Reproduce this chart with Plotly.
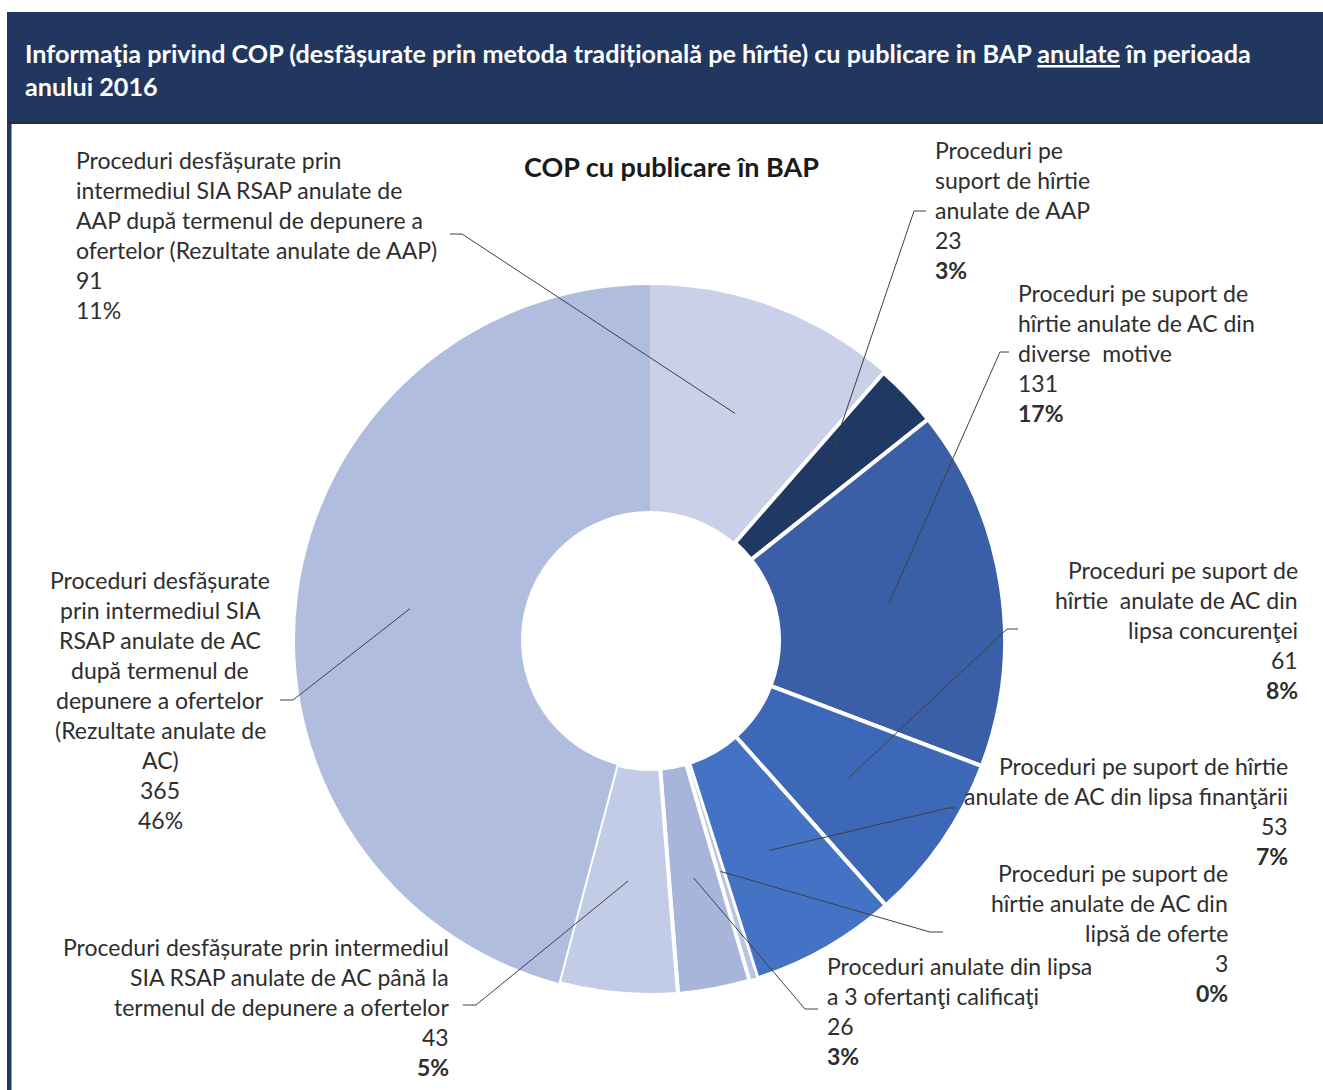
import math
import plotly.graph_objects as go

W, H = 1323, 1090

# ---------------- data ----------------
categories = [
    "Proceduri desfășurate prin intermediul SIA RSAP anulate de AAP după termenul de depunere a ofertelor (Rezultate anulate de AAP)",
    "Proceduri pe suport de hîrtie anulate de AAP",
    "Proceduri pe suport de hîrtie anulate de AC din diverse  motive",
    "Proceduri pe suport de hîrtie  anulate de AC din lipsa concurenţei",
    "Proceduri pe suport de hîrtie anulate de AC din lipsa finanţării",
    "Proceduri pe suport de hîrtie anulate de AC din lipsă de oferte",
    "Proceduri anulate din lipsa a 3 ofertanţi calificaţi",
    "Proceduri desfășurate prin intermediul SIA RSAP anulate de AC până la termenul de depunere a ofertelor",
    "Proceduri desfășurate prin intermediul SIA RSAP anulate de AC după termenul de depunere a ofertelor (Rezultate anulate de AC)",
]
values = [91, 23, 131, 61, 53, 3, 26, 43, 365]
percent_labels = ["11%", "3%", "17%", "8%", "7%", "0%", "3%", "5%", "46%"]
percent_bold = [False, True, True, True, True, True, True, True, False]

# label text as wrapped in the original chart
category_lines = [
    ["Proceduri desfășurate prin", "intermediul SIA RSAP anulate de",
     "AAP după termenul de depunere a", "ofertelor (Rezultate anulate de AAP)"],
    ["Proceduri pe", "suport de hîrtie", "anulate de AAP"],
    ["Proceduri pe suport de", "hîrtie anulate de AC din", "diverse  motive"],
    ["Proceduri pe suport de", "hîrtie  anulate de AC din", "lipsa concurenţei"],
    ["Proceduri pe suport de hîrtie", "anulate de AC din lipsa finanţării"],
    ["Proceduri pe suport de", "hîrtie anulate de AC din", "lipsă de oferte"],
    ["Proceduri anulate din lipsa", "a 3 ofertanţi calificaţi"],
    ["Proceduri desfășurate prin intermediul", "SIA RSAP anulate de AC până la",
     "termenul de depunere a ofertelor"],
    ["Proceduri desfășurate", "prin intermediul SIA", "RSAP anulate de AC",
     "după termenul de", "depunere a ofertelor", "(Rezultate anulate de", "AC)"],
]

chart_title = "COP cu publicare în BAP"
header_lines = [
    "Informaţia privind COP (desfășurate prin metoda tradițională pe hîrtie) cu publicare in BAP <u>anulate</u> în perioada",
    "anului 2016",
]

# ---------------- style / layout ----------------
colors = ["#C9D0E8", "#203864", "#3A5FA6", "#3D68B7", "#4472C4",
          "#B7C5E4", "#A8B5DA", "#C2CCE6", "#B1BDDF"]
sep_widths = [0, 4, 4, 4, 4, 2, 4, 4, 0]

CX, CY, R_OUT, R_IN = 650, 640, 355, 129
R_MID = (R_OUT + R_IN) / 2
FONT = "Lato"
FS = 23
LINE_H = 30
TXT = "#2e2e2e"

# label placement: (x, y of first line, anchor)
label_pos = [
    (74, 160, "left"),
    (933, 150, "left"),
    (1016, 293, "left"),
    (1300, 570, "right"),
    (1290, 766, "right"),
    (1230, 873, "right"),
    (825, 966, "left"),
    (451, 947, "right"),
    (160, 580, "center"),
]
# leader line: elbow point and end point (near label)
leader_pts = [
    ((462, 234), (450, 234)),
    ((914, 211), (926, 211)),
    ((1000, 352), (1009, 352)),
    ((1007, 629), (1018, 629)),
    ((948, 808), (956, 808)),
    ((930, 932), (943, 932)),
    ((805, 1009), (818, 1009)),
    ((476, 1005), (463, 1005)),
    ((293, 700), (280, 700)),
]


def px(x):
    return x / W


def py(y):
    return 1 - y / H


fig = go.Figure()
fig.add_trace(go.Pie(
    labels=categories,
    values=values,
    sort=False,
    direction="clockwise",
    rotation=0,
    hole=R_IN / R_OUT,
    marker=dict(colors=colors, line=dict(color="white", width=sep_widths)),
    textinfo="none",
    hoverinfo="label+value+percent",
    showlegend=False,
    domain=dict(x=[px(CX - R_OUT), px(CX + R_OUT)],
                y=[py(CY + R_OUT), py(CY - R_OUT)]),
))

shapes = []
annotations = []

# header band and frame
shapes.append(dict(type="rect", xref="paper", yref="paper",
                   x0=px(7), x1=px(W), y0=py(124), y1=py(12),
                   fillcolor="#22375F", line=dict(width=0), layer="below"))
shapes.append(dict(type="rect", xref="paper", yref="paper",
                   x0=px(7), x1=px(W), y0=py(124), y1=py(121),
                   fillcolor="#262D45", line=dict(width=0), layer="below"))
shapes.append(dict(type="rect", xref="paper", yref="paper",
                   x0=px(7), x1=px(11.5), y0=py(H), y1=py(124),
                   fillcolor="#22375F", line=dict(width=0), layer="below"))

for i, line in enumerate(header_lines):
    annotations.append(dict(
        xref="paper", yref="paper", x=px(23), y=py(53 + 33 * i),
        xanchor="left", yanchor="middle", showarrow=False,
        text=f"<b>{line}</b>",
        font=dict(family=FONT, size=25.2, color="white")))

annotations.append(dict(
    xref="paper", yref="paper", x=px(671), y=py(166),
    xanchor="center", yanchor="middle", showarrow=False,
    text=f"<b>{chart_title}</b>",
    font=dict(family=FONT, size=27, color="#1a1a1a")))

# labels + leader lines
total = sum(values)
cum = 0
for k, v in enumerate(values):
    mid = (cum + v / 2) / total * 2 * math.pi
    cum += v
    ex = CX + R_MID * math.sin(mid)
    ey = CY - R_MID * math.cos(mid)
    (bx, by), (tx, ty) = leader_pts[k]
    path = f"M {px(ex)},{py(ey)} L {px(bx)},{py(by)} L {px(tx)},{py(ty)}"
    shapes.append(dict(type="path", xref="paper", yref="paper", path=path,
                       line=dict(color="#404040", width=1)))

    x0, y0, anchor = label_pos[k]
    lines = list(category_lines[k]) + [str(v)]
    pct = f"<b>{percent_labels[k]}</b>" if percent_bold[k] else percent_labels[k]
    lines.append(pct)
    for j, line in enumerate(lines):
        annotations.append(dict(
            xref="paper", yref="paper", x=px(x0), y=py(y0 + LINE_H * j),
            xanchor=anchor, yanchor="middle", showarrow=False,
            text=line, font=dict(family=FONT, size=FS, color=TXT)))

fig.update_layout(
    width=W, height=H,
    margin=dict(l=0, r=0, t=0, b=0),
    paper_bgcolor="white", plot_bgcolor="white",
    shapes=shapes, annotations=annotations,
    showlegend=False,
)

fig.write_html(
    "out.html",
    config={"displayModeBar": False},
    post_script="document.body.style.margin='0px';document.body.style.overflow='hidden';",
)
